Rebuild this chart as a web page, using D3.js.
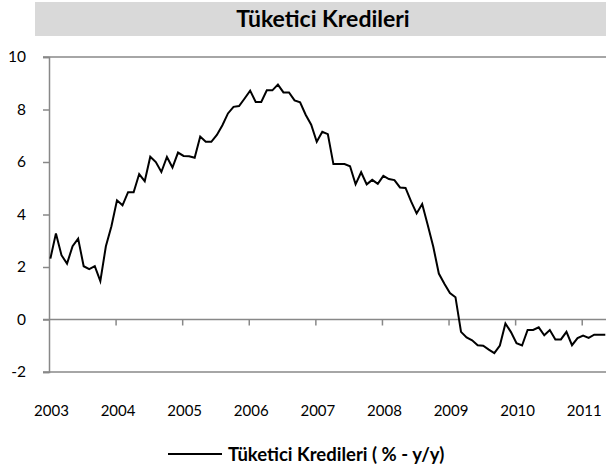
<!DOCTYPE html>
<html>
<head>
<meta charset="utf-8">
<script src="https://cdn.jsdelivr.net/npm/d3@7"></script>
<style>
  html, body { margin: 0; padding: 0; background: #fff; }
  svg { display: block; font-family: Lato, "Open Sans", sans-serif; }
</style>
</head>
<body>
<svg id="chart" width="606" height="470"></svg>
<script>
// Monthly consumer credit growth, Jan 2003 onward (% y/y)
const startYear = 2003;
const values = [
  2.32, 3.28, 2.45, 2.13, 2.79, 3.08, 2.03, 1.92, 2.03, 1.46, 2.79, 3.55,
  4.54, 4.35, 4.85, 4.85, 5.54, 5.27, 6.20, 6.00, 5.62, 6.19, 5.79, 6.36,
  6.23, 6.22, 6.16, 6.97, 6.77, 6.77, 7.03, 7.40, 7.85, 8.10, 8.13, 8.42,
  8.72, 8.29, 8.29, 8.73, 8.73, 8.95, 8.65, 8.65, 8.35, 8.27, 7.80, 7.42,
  6.77, 7.15, 7.06, 5.92, 5.92, 5.92, 5.84, 5.15, 5.61, 5.15, 5.32, 5.17,
  5.47, 5.35, 5.31, 5.03, 5.01, 4.50, 4.04, 4.40, 3.60, 2.77, 1.75, 1.36,
  1.01, 0.85, -0.47, -0.68, -0.79, -0.98, -1.00, -1.15, -1.28, -0.99, -0.15, -0.48,
  -0.90, -0.99, -0.40, -0.40, -0.30, -0.60, -0.40, -0.76, -0.76, -0.47, -0.98, -0.71,
  -0.61, -0.70, -0.58, -0.58, -0.58
];
const yearLabels = ["2003", "2004", "2005", "2006", "2007", "2008", "2009", "2010", "2011"];
const yTicks = [-2, 0, 2, 4, 6, 8, 10];
const titleText = "Tüketici Kredileri";
const legendText = "Tüketici Kredileri ( % - y/y)";

const svg = d3.select("#chart");
const W = 606, H = 470;

const plot = { left: 49, top: 57, bottom: 372, right: 606 };
const monthW = 66.59 / 12;

const x = d3.scaleLinear()
  .domain([0, 101])
  .range([plot.left, plot.left + 101 * monthW]);
const y = d3.scaleLinear()
  .domain([-2, 10])
  .range([plot.bottom, plot.top]);

const axisColor = "#888888";

// Title band
svg.append("rect")
  .attr("x", 35).attr("y", 2)
  .attr("width", W - 35).attr("height", 34)
  .attr("fill", "#d9d9d9");
svg.append("text")
  .attr("x", 323).attr("y", 27)
  .attr("text-anchor", "middle")
  .attr("font-size", 23).attr("font-weight", 700)
  .attr("fill", "#000")
  .text(titleText);

// Horizontal rules at the top, bottom and zero of the value range
[10, -2, 0].forEach(v => {
  svg.append("line")
    .attr("x1", plot.left - 6).attr("x2", W)
    .attr("y1", y(v)).attr("y2", y(v))
    .attr("stroke", axisColor).attr("stroke-width", 1.5);
});

// Value axis
const yAxis = d3.axisLeft(y).tickValues(yTicks).tickSize(6).tickPadding(17)
  .tickFormat(d => String(d));
const gy = svg.append("g")
  .attr("transform", `translate(${plot.left},0)`)
  .call(yAxis);
gy.select(".domain").attr("stroke", axisColor).attr("stroke-width", 1.5);
gy.selectAll(".tick line").attr("stroke", axisColor).attr("stroke-width", 1.5);
gy.selectAll(".tick text")
  .attr("font-family", "Lato, sans-serif")
  .attr("font-size", 15.5).attr("fill", "#000");

// Year ticks hanging from the zero line
const yearIdx = yearLabels.map((_, k) => 12 * k);
const xAxis = d3.axisBottom(x).tickValues(yearIdx.slice(1)).tickSize(6).tickFormat("");
const gx = svg.append("g")
  .attr("transform", `translate(0,${y(0)})`)
  .call(xAxis);
gx.select(".domain").remove();
gx.selectAll(".tick line").attr("stroke", axisColor).attr("stroke-width", 1.5);

// Year labels
svg.append("g").selectAll("text")
  .data(yearLabels)
  .join("text")
  .attr("x", (d, k) => x(12 * k + 0.45))
  .attr("y", 416)
  .attr("text-anchor", "middle")
  .attr("font-size", 15).attr("fill", "#000")
  .text(d => d);

// Series line
const line = d3.line()
  .x((d, i) => x(i + 0.25))
  .y(d => y(d));
svg.append("path")
  .datum(values)
  .attr("d", line)
  .attr("fill", "none")
  .attr("stroke", "#000")
  .attr("stroke-width", 2)
  .attr("stroke-linejoin", "miter");

// Legend
const lg = svg.append("g");
lg.append("line")
  .attr("x1", 168).attr("x2", 222)
  .attr("y1", 454).attr("y2", 454)
  .attr("stroke", "#000").attr("stroke-width", 2);
lg.append("text")
  .attr("x", 228).attr("y", 461)
  .attr("font-size", 18.5).attr("font-weight", 700)
  .attr("fill", "#000")
  .text(legendText);
</script>
</body>
</html>
